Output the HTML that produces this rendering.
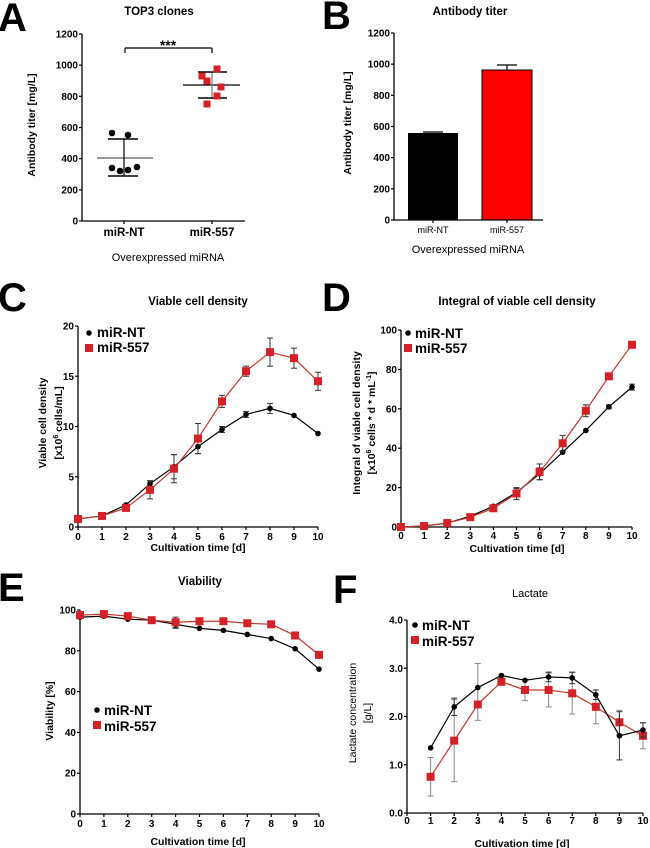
<!DOCTYPE html>
<html><head><meta charset="utf-8"><style>
body{margin:0;background:#fff;}
svg{display:block;font-family:"Liberation Sans",Arial,sans-serif;}
.t{font-weight:bold;font-size:11.5px;}
.tks{font-weight:bold;font-size:10px;}
.lab{font-size:10.5px;font-weight:bold;}
.big{font-weight:bold;font-size:40px;}
.leg{font-weight:bold;font-size:13.5px;}
</style></head><body>
<svg id="s" width="650" height="848" viewBox="0 0 650 848" xmlns="http://www.w3.org/2000/svg">
<g fill="#000">
<text class="big" x="-2" y="31">A</text>
<text class="big" x="322" y="29">B</text>
<text class="big" x="-2" y="311">C</text>
<text class="big" x="322" y="311">D</text>
<text class="big" x="-2" y="601">E</text>
<text class="big" x="333" y="603">F</text>

<text class="t" x="159" y="15" text-anchor="middle">TOP3 clones</text>
<text class="t" x="470" y="15" text-anchor="middle">Antibody titer</text>
<text class="t" x="198" y="305" text-anchor="middle">Viable cell density</text>
<text class="t" x="517" y="305" text-anchor="middle">Integral of viable cell density</text>
<text class="t" x="200" y="585" text-anchor="middle">Viability</text>
<text x="530" y="597" text-anchor="middle" font-size="11">Lactate</text>

<text class="lab" transform="translate(35,125) rotate(-90)" text-anchor="middle">Antibody titer [mg/L]</text>
<text class="lab" transform="translate(351,123) rotate(-90)" text-anchor="middle">Antibody titer [mg/L]</text>
<text class="lab" transform="translate(46,423) rotate(-90)" text-anchor="middle">Viable cell density</text>
<text class="lab" transform="translate(62,423) rotate(-90)" text-anchor="middle">[x10<tspan font-size="7" dy="-4">6</tspan><tspan dy="4"> cells/mL]</tspan></text>
<text class="lab" transform="translate(360,423) rotate(-90)" text-anchor="middle">Integral of viable cell density</text>
<text class="lab" transform="translate(375,423) rotate(-90)" text-anchor="middle">[x10<tspan font-size="7" dy="-4">6</tspan><tspan dy="4"> cells * d * mL</tspan><tspan font-size="7" dy="-4">-1</tspan><tspan dy="4">]</tspan></text>
<text class="lab" transform="translate(53,711) rotate(-90)" text-anchor="middle">Viability [%]</text>
<text font-size="10.5" transform="translate(356,713) rotate(-90)" text-anchor="middle">Lactate concentration</text>
<text font-size="10.5" transform="translate(371,713) rotate(-90)" text-anchor="middle">[g/L]</text>

<text x="168" y="261" text-anchor="middle" font-size="11">Overexpressed miRNA</text>
<text x="468" y="253" text-anchor="middle" font-size="11">Overexpressed miRNA</text>
<text class="lab" x="198" y="551" text-anchor="middle">Cultivation time [d]</text>
<text class="lab" x="517" y="552" text-anchor="middle">Cultivation time [d]</text>
<text class="lab" x="198" y="845" text-anchor="middle">Cultivation time [d]</text>
<text class="lab" x="522" y="847" text-anchor="middle">Cultivation time [d]</text>

<text class="t" x="124" y="236" text-anchor="middle" font-size="12">miR-NT</text>
<text class="t" x="212" y="236" text-anchor="middle" font-size="12">miR-557</text>
<text x="433" y="233" text-anchor="middle" font-size="9">miR-NT</text>
<text x="507" y="233" text-anchor="middle" font-size="9">miR-557</text>
<text x="168" y="50" text-anchor="middle" font-size="14" font-weight="bold">***</text>

<text class="leg" x="97" y="337">miR-NT</text>
<text class="leg" x="97" y="352">miR-557</text>
<text class="leg" x="415" y="338">miR-NT</text>
<text class="leg" x="415" y="353">miR-557</text>
<text class="leg" x="104" y="715">miR-NT</text>
<text class="leg" x="104" y="731">miR-557</text>
<text class="leg" x="422" y="630">miR-NT</text>
<text class="leg" x="422" y="646">miR-557</text>
</g>
<g id="ticks" class="tks"></g>
<g id="dyn"></g>
</svg>
<script>
var NS="http://www.w3.org/2000/svg",dyn=document.getElementById('dyn'),tk=document.getElementById('ticks');
function el(n,a,p){var e=document.createElementNS(NS,n);for(var k in a)e.setAttribute(k,a[k]);(p||dyn).appendChild(e);return e;}
function line(x1,y1,x2,y2,c,w){el('line',{x1:x1,y1:y1,x2:x2,y2:y2,stroke:c||'#000','stroke-width':w||1.2});}
function txt(x,y,s,anc,cls){var t=el('text',{x:x,y:y,'text-anchor':anc||'end','class':cls||'tks'},tk);t.textContent=s;}
function yaxis(x,y0,y1,vals,labs,cls){line(x,y0,x,y1,'#000',1.3);for(var i=0;i<vals.length;i++){var y=y0+(y1-y0)*i/(vals.length-1);line(x-3,y,x,y);txt(x-4,y+3.5,labs[i],'end',cls);}}
yaxis(82,221,34,[0,1,2,3,4,5,6],['0','200','400','600','800','1000','1200'],'tks');
line(82,221,245,221,'#000',1.3);line(124,221,124,224);line(212,221,212,224);
line(125,53,125,48);line(125,48,212,48);line(212,48,212,53);
line(97,158,153,158,'#777',1.5);line(124,139,124,176,'#000',1.2);line(108,139,138,139,'#000',1.5);line(108,176,138,176,'#000',1.5);
[[112,133],[128,135],[112,168],[120,171],[128,170],[137,167]].forEach(function(p){el('circle',{cx:p[0],cy:p[1],r:3.3,fill:'#000'});});
line(183,85,240,85,'#000',1.3);line(212,72,212,98,'#777',1.2);line(198,72,227,72,'#000',1.5);line(198,98,227,98,'#000',1.5);
[[202,76],[207,81],[217,69],[221,87],[217,96],[207,104]].forEach(function(p){el('rect',{x:p[0]-3.5,y:p[1]-3.5,width:7,height:7,fill:'#d42027'});});
yaxis(394,220,33,[0,1,2,3,4,5,6],['0','200','400','600','800','1000','1200'],'tks');
el('rect',{x:408,y:133,width:50,height:87,fill:'#000'});
el('rect',{x:482,y:70,width:50,height:150,fill:'#ff0000',stroke:'#000','stroke-width':1});
line(507,70,507,65);line(497,65,517,65,'#000',1.3);line(423,132,443,132,'#000',1.3);
line(394,220,543,220,'#000',1.3);line(433,220,433,223);line(507,220,507,223);
function chart(o){
 yaxis(o.x0,o.y0,o.y1,o.yt,o.yt,'tks');
 line(o.x0,o.y0,o.x1,o.y0,'#000',1.3);
 var dx=(o.x1-o.x0)/10;
 for(var i=0;i<=10;i++){var x=o.x0+dx*i;line(x,o.y0,x,o.y0+3);txt(x,o.ty,String(i),'middle','tks');}
 function Y(v){return o.y0-(v-o.ymin)/(o.ymax-o.ymin)*(o.y0-o.y1);}
 function ser(d,e,col,sq,start,ecol){var pts=[];for(var i=0;i<d.length;i++){var x=o.x0+dx*(i+start);pts.push(x+','+Y(d[i]));}
  el('polyline',{points:pts.join(' '),fill:'none',stroke:col,'stroke-width':1.2});
  for(var i=0;i<d.length;i++){var x=o.x0+dx*(i+start),y=Y(d[i]);var er=e[i]||0;
   if(er){var up=Array.isArray(er)?er[0]:er,dn=Array.isArray(er)?er[1]:er;line(x,Y(d[i]+up),x,Y(d[i]-dn),ecol||'#333',1);line(x-3,Y(d[i]+up),x+3,Y(d[i]+up),ecol||'#333',1);line(x-3,Y(d[i]-dn),x+3,Y(d[i]-dn),ecol||'#333',1);}
   if(sq)el('rect',{x:x-4,y:y-4,width:8,height:8,fill:'#d42027'});else el('circle',{cx:x,cy:y,r:2.8,fill:'#000'});}}
 if(o.ntFirst){ser(o.red,o.re,'#c0392b',true,o.start||0,o.recol);ser(o.nt,o.ne,'#000',false,o.start||0);}else{ser(o.nt,o.ne,'#000',false,o.start||0);ser(o.red,o.re,'#c0392b',true,o.start||0,o.recol);}
 el('circle',{cx:o.lx,cy:o.ly,r:2.8,fill:'#000'});el('rect',{x:o.lx-4,y:o.ly+11,width:8,height:8,fill:'#d42027'});
}
chart({x0:78,x1:318,y0:527,y1:326,ymin:0,ymax:20,yt:['0','5','10','15','20'],ty:540,
 nt:[0.8,1.1,2.2,4.3,6,8,9.7,11.2,11.8,11.1,9.3],ne:[0,0,0,0.3,1.2,0.7,0.3,0.3,0.5,0,0],
 red:[0.8,1.1,1.9,3.7,5.8,8.8,12.5,15.5,17.4,16.8,14.5],re:[0,0,0,0.9,1.4,1.5,0.6,0.5,1.4,1,0.9],lx:89,ly:333});
chart({x0:401,x1:632,y0:527,y1:330,ymin:0,ymax:100,yt:['0','20','40','60','80','100'],ty:539,
 nt:[0,0.5,2,5.5,10.5,17.5,27,38,49,61,71],ne:[0,0,0,0,0,2,3,0,0,1,1.5],
 red:[0,0.5,2,5,9.5,17,28,42.5,59,76.5,92.5],re:[0,0,0,0,0,3,4,4,3,1.5,0],lx:408,ly:333});
chart({x0:80,x1:319,y0:814,y1:610,ymin:0,ymax:100,yt:['0','20','40','60','80','100'],ty:827,
 nt:[96.5,97,95.5,95,93,91,90,88,86,81,71],ne:[0,0,0,0,2,0,0,0,0,0,0],
 red:[97.5,98,97,95,94,94.5,94.5,93.5,93,87.5,78],re:[0,0,0,0,2.5,0,0,0,0,0,0],lx:97,ly:710});
chart({x0:407,x1:643,y0:813,y1:620,ymin:0,ymax:4,yt:['0.0','1.0','2.0','3.0','4.0'],ty:824,start:1,ntFirst:true,recol:'#888',
 nt:[1.35,2.2,2.6,2.85,2.75,2.82,2.8,2.45,1.6,1.72],ne:[0,0.18,0,0,0,0.1,0.12,0.1,0.5,0.15],
 red:[0.75,1.5,2.25,2.72,2.55,2.55,2.48,2.2,1.88,1.6],re:[0.4,0.85,[0.85,0.33],0.07,0.22,0.35,0.43,0.35,0.25,0.27],lx:415,ly:625});
</script>
</body></html>
